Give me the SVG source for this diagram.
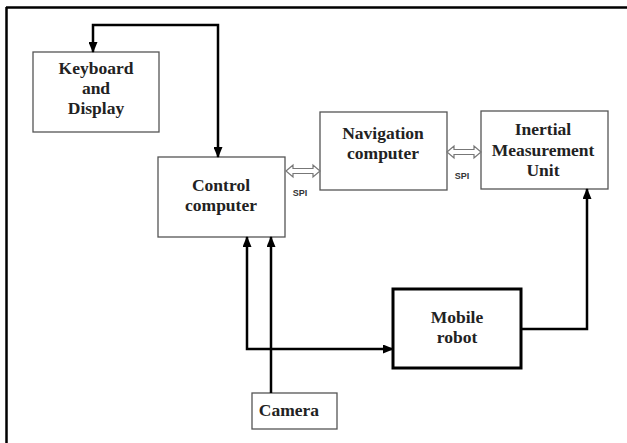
<svg xmlns="http://www.w3.org/2000/svg" width="627" height="443" viewBox="0 0 627 443">
  <style>
    .box { fill: #fff; stroke: #555; stroke-width: 1.3; }
    .heavy { fill: #fff; stroke: #000; stroke-width: 3; }
    .lbl { font-family: "Liberation Serif", "Times New Roman", serif; font-weight: bold; font-size: 17.5px; fill: #222; text-anchor: middle; }
    .spi { font-family: "Liberation Sans", Arial, sans-serif; font-weight: bold; font-size: 9px; fill: #333; text-anchor: middle; }
    .wire { fill: none; stroke: #000; stroke-width: 2.5; }
    .bus { fill: #fff; stroke: #777; stroke-width: 1.2; }
  </style>
  <defs>
    <marker id="head" markerUnits="userSpaceOnUse" markerWidth="11" markerHeight="9" refX="10" refY="4.5" orient="auto-start-reverse">
      <path d="M0,0 L11,4.5 L0,9 z" fill="#000"/>
    </marker>
  </defs>

  <!-- frame -->
  <path d="M6,7.5 H627 M6.5,7 V443" fill="none" stroke="#000" stroke-width="2.5"/>

  <g id="keyboard">
    <rect class="box" x="33" y="52" width="126" height="80"/>
    <text class="lbl" x="96" y="74">Keyboard</text>
    <text class="lbl" x="96" y="94">and</text>
    <text class="lbl" x="96" y="114">Display</text>
  </g>

  <g id="control">
    <rect class="box" x="158" y="157" width="127" height="80"/>
    <text class="lbl" x="221" y="191">Control</text>
    <text class="lbl" x="221" y="211">computer</text>
  </g>

  <g id="navigation">
    <rect class="box" x="320" y="112" width="127" height="78"/>
    <text class="lbl" x="383" y="139">Navigation</text>
    <text class="lbl" x="383" y="159">computer</text>
  </g>

  <g id="imu">
    <rect class="box" x="481" y="111" width="127" height="78"/>
    <text class="lbl" x="543" y="135">Inertial</text>
    <text class="lbl" x="543" y="156">Measurement</text>
    <text class="lbl" x="543" y="176">Unit</text>
  </g>

  <g id="robot">
    <rect class="heavy" x="393" y="289" width="128" height="79"/>
    <text class="lbl" x="457" y="323">Mobile</text>
    <text class="lbl" x="457" y="343">robot</text>
  </g>

  <g id="camera">
    <rect class="box" x="252" y="393" width="85" height="36"/>
    <text class="lbl" x="289" y="416">Camera</text>
  </g>

  <g id="connectors">
    <path class="wire" d="M93,52 V25 H218 V157" marker-start="url(#head)" marker-end="url(#head)"/>
    <path class="wire" d="M271,393 V237" marker-end="url(#head)"/>
    <path class="wire" d="M247,237 V349 H393" marker-start="url(#head)" marker-end="url(#head)"/>
    <path class="wire" d="M521,329 H587 V189" marker-end="url(#head)"/>
    <polygon class="bus" points="286,171 293,165 293,168.5 313,168.5 313,165 320,171 313,177 313,173.5 293,173.5 293,177"/>
    <polygon class="bus" points="447,152 454,146 454,149.5 474,149.5 474,146 481,152 474,158 474,154.5 454,154.5 454,158"/>
    <text class="spi" x="300" y="196">SPI</text>
    <text class="spi" x="462" y="179">SPI</text>
  </g>
</svg>
